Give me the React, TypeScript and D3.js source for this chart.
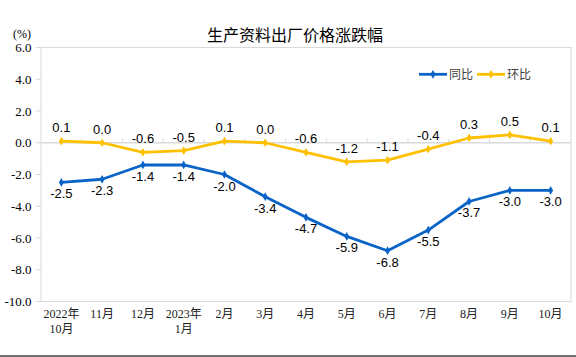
import React from "react";
import * as d3 from "d3";

const categories = ["2022年\n10月", "11月", "12月", "2023年\n1月", "2月", "3月", "4月", "5月", "6月", "7月", "8月", "9月", "10月"];
const yoy = [-2.5, -2.3, -1.4, -1.4, -2.0, -3.4, -4.7, -5.9, -6.8, -5.5, -3.7, -3.0, -3.0];
const mom = [0.1, 0.0, -0.6, -0.5, 0.1, 0.0, -0.6, -1.2, -1.1, -0.4, 0.3, 0.5, 0.1];
const yTicks = [-10, -8, -6, -4, -2, 0, 2, 4, 6];
const seriesNames = ["同比", "环比"];
const title = "生产资料出厂价格涨跌幅";
const unitLabel = "(%)";

const W = 576;
const H = 357;
const L = 41, R = 571, T = 47.5, B = 301.5;
const BLUE = "#0a64c8";
const YELLOW = "#ffc000";
const GRID = "#d9d9d9";

export default function App() {
  const x = d3.scaleBand<string>().domain(categories).range([L, R]).padding(0);
  const y = d3.scaleLinear().domain([-10, 6]).range([B, T]);
  const cx = (i: number) => (x(categories[i]) as number) + x.bandwidth() / 2;
  const line = d3.line<number>().x((_, i) => cx(i)).y((d) => y(d));
  const diamond = d3.symbol().type(d3.symbolDiamond).size(22)() as string;
  const fmt = (v: number) => (Math.abs(v) < 1e-9 ? 0 : v).toFixed(1);
  const serif = "'Liberation Serif', 'Times New Roman', 'Noto Sans CJK SC', serif";
  const sans = "'Liberation Sans', Arial, 'Noto Sans CJK SC', sans-serif";
  const cjk = "'Noto Sans CJK SC', sans-serif";

  const boundaries = categories.map((c) => x(c) as number).slice(1);

  return (
    <svg width={W} height={H} style={{ position: "absolute", left: 0, top: 0, background: "#fff" }}>
      <rect x={0} y={0} width={W} height={H} fill="#fff" />
      <rect x={L} y={T} width={R - L} height={B - T} fill="none" stroke={GRID} strokeWidth={1} />
      {yTicks.map((t) => (
        <g key={t}>
          <line x1={L - 5} x2={L} y1={y(t)} y2={y(t)} stroke={GRID} />
          <text x={31.5} y={y(t)} dy="0.35em" textAnchor="end" fontFamily={serif} fontSize={13} fill="#000">
            {fmt(t)}
          </text>
        </g>
      ))}
      <line x1={L} x2={R} y1={y(0)} y2={y(0)} stroke={GRID} strokeWidth={1.5} />
      {boundaries.map((bx, i) => (
        <line key={i} x1={bx} x2={bx} y1={y(0)} y2={y(0) - 4} stroke={GRID} />
      ))}
      {categories.map((c, i) => {
        const lines = c.split("\n");
        return (
          <text key={c + i} x={cx(i)} y={318} textAnchor="middle" fontFamily={serif} fontSize={12} fill="#222">
            {lines.map((ln, j) => (
              <tspan key={j} x={cx(i)} dy={j === 0 ? 0 : 15}>
                {ln}
              </tspan>
            ))}
          </text>
        );
      })}
      <path d={line(mom) as string} fill="none" stroke={YELLOW} strokeWidth={2.8} strokeLinejoin="round" />
      <path d={line(yoy) as string} fill="none" stroke={BLUE} strokeWidth={2.8} strokeLinejoin="round" />
      {mom.map((v, i) => (
        <path key={"m" + i} d={diamond} transform={`translate(${cx(i)},${y(v)})`} fill={YELLOW} />
      ))}
      {yoy.map((v, i) => (
        <path key={"y" + i} d={diamond} transform={`translate(${cx(i)},${y(v)})`} fill={BLUE} />
      ))}
      {mom.map((v, i) => (
        <text key={"ml" + i} x={cx(i)} y={y(v) - 9} textAnchor="middle" fontFamily={sans} fontSize={13} fill="#000">
          {fmt(v)}
        </text>
      ))}
      {yoy.map((v, i) => (
        <text key={"yl" + i} x={cx(i)} y={y(v) + 16} textAnchor="middle" fontFamily={sans} fontSize={13} fill="#000">
          {fmt(v)}
        </text>
      ))}
      <g>
        <line x1={419} x2={447} y1={74.3} y2={74.3} stroke={BLUE} strokeWidth={2.8} />
        <path d={diamond} transform="translate(433,74.3)" fill={BLUE} />
        <text x={449} y={74.3} dy="0.35em" fontFamily={cjk} fontSize={12} fill="#404040">{seriesNames[0]}</text>
        <line x1={477} x2={505} y1={74.3} y2={74.3} stroke={YELLOW} strokeWidth={2.8} />
        <path d={diamond} transform="translate(491,74.3)" fill={YELLOW} />
        <text x={507} y={74.3} dy="0.35em" fontFamily={cjk} fontSize={12} fill="#404040">{seriesNames[1]}</text>
      </g>
      <text x={295} y={35} dy="0.35em" textAnchor="middle" fontFamily={cjk} fontSize={16} fill="#000">
        {title}
      </text>
      <text x={22} y={34} dy="0.35em" textAnchor="middle" fontFamily={serif} fontSize={12} fill="#000">
        {unitLabel}
      </text>
      <line x1={0} x2={W} y1={356} y2={356} stroke="#404040" strokeWidth={1.5} />
    </svg>
  );
}
